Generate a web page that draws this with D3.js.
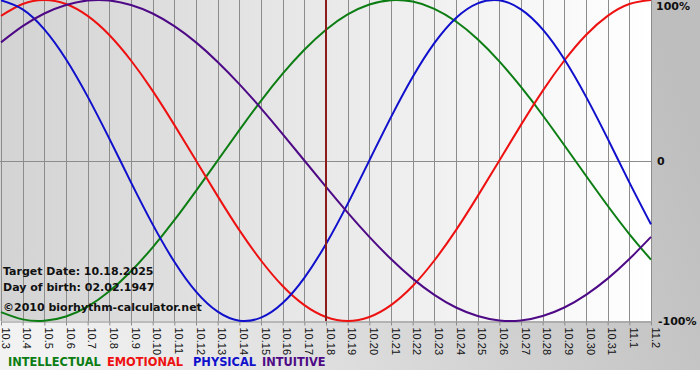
<html>
<head>
<title>Biorhythm</title>
<script src="https://d3js.org/d3.v7.min.js"></script>
<style>
  body { margin: 0; background: white; }
  .grid line { stroke: #8c8c8c; stroke-width: 1px; }
  .curve { fill: none; stroke-width: 2px; }
  .info { font-family: "DejaVu Sans", Verdana, sans-serif; font-weight: bold; font-size: 11px; fill: #111; }
  .legend { font-family: "DejaVu Sans", Verdana, sans-serif; font-weight: bold; font-size: 11.4px; }
  .pct { font-family: "DejaVu Sans", Verdana, sans-serif; font-weight: bold; font-size: 11px; fill: #111; }
</style>
</head>
<body>
<svg id="chart" width="700" height="380"></svg>
<script>
  // day labels along the bottom
  const days = ["10.3","10.4","10.5","10.6","10.7","10.8","10.9","10.10","10.11","10.12",
    "10.13","10.14","10.15","10.16","10.17","10.18","10.19","10.20","10.21","10.22",
    "10.23","10.24","10.25","10.26","10.27","10.28","10.29","10.30","10.31","11.1","11.2"];
  const targetDay = "10.18";

  // values per day, -1 .. 1
  const physical = [0.998,0.942,0.817,0.631,0.398,0.136,-0.136,-0.398,-0.631,-0.817,
    -0.942,-0.998,-0.979,-0.888,-0.731,-0.520,-0.270,0,0.270,0.520,
    0.731,0.888,0.979,0.998,0.942,0.817,0.631,0.398,0.136,-0.136,-0.398];
  const emotional = [0.901,0.975,1,0.975,0.901,0.782,0.623,0.434,0.222,0,
    -0.222,-0.434,-0.623,-0.782,-0.901,-0.975,-1,-0.975,-0.901,-0.782,
    -0.623,-0.434,-0.222,0,0.222,0.434,0.623,0.782,0.901,0.975,1];
  const intellectual = [-0.945,-0.990,-0.999,-0.972,-0.910,-0.815,-0.690,-0.541,-0.372,-0.189,
    0,0.189,0.372,0.541,0.690,0.815,0.910,0.972,0.999,0.990,
    0.945,0.866,0.756,0.618,0.458,0.282,0.095,-0.095,-0.282,-0.458,-0.618];
  const intuitive = [0.736,0.837,0.916,0.969,0.997,0.997,0.969,0.916,0.837,0.736,
    0.614,0.476,0.325,0.165,0,-0.165,-0.325,-0.476,-0.614,-0.736,
    -0.837,-0.916,-0.969,-0.997,-0.997,-0.969,-0.916,-0.837,-0.736,-0.614,-0.476];

  const seriesNames = ["INTELLECTUAL","EMOTIONAL","PHYSICAL","INTUITIVE"];
  const seriesColors = ["#0b7d12","#ee1111","#1010cc","#4e0a86"];
  const seriesData = [intellectual, emotional, physical, intuitive];

  const svg = d3.select("#chart");
  const plotW = 651, plotH = 321;

  const defs = svg.append("defs");
  const bg = defs.append("linearGradient").attr("id","bg")
    .attr("x1","0").attr("y1","0.6").attr("x2","1").attr("y2","0.4");
  bg.append("stop").attr("offset","0").attr("stop-color","#f2f2f2");
  bg.append("stop").attr("offset","1").attr("stop-color","#bebebe");
  const pg = defs.append("linearGradient").attr("id","plotbg")
    .attr("x1","0").attr("y1","0").attr("x2","1").attr("y2","0");
  pg.append("stop").attr("offset","0").attr("stop-color","#d3d3d3");
  pg.append("stop").attr("offset","1").attr("stop-color","#ffffff");

  svg.append("rect").attr("width",700).attr("height",370).attr("fill","url(#bg)");
  svg.append("rect").attr("width",plotW).attr("height",plotH).attr("fill","url(#plotbg)");

  const x = d3.scaleLinear().domain([0, days.length - 1]).range([1, plotW]);
  const y = d3.scaleLinear().domain([-1, 1]).range([plotH, 0]);

  // vertical day grid
  svg.append("g").attr("class","grid")
    .selectAll("line").data(days).join("line")
    .attr("x1",(d,i) => Math.round(x(i)) + 0.5).attr("x2",(d,i) => Math.round(x(i)) + 0.5)
    .attr("y1",0).attr("y2",plotH);

  // zero line
  svg.append("line").attr("x1",0).attr("x2",plotW + 1)
    .attr("y1",Math.round(y(0)) + 0.5).attr("y2",Math.round(y(0)) + 0.5)
    .attr("stroke","#8c8c8c");

  // bottom axis
  const xAxis = d3.axisBottom(x)
    .tickValues(d3.range(days.length))
    .tickFormat(i => days[i])
    .tickSize(4).tickSizeOuter(0);
  const ax = svg.append("g").attr("transform","translate(0," + (plotH + 0.5) + ")").call(xAxis);
  ax.select(".domain").attr("stroke","#8c8c8c");
  ax.selectAll(".tick line").attr("stroke","#8c8c8c");
  ax.selectAll(".tick text")
    .attr("transform","rotate(90)")
    .attr("text-anchor","start")
    .attr("x",6).attr("y",-4).attr("dy","0.35em")
    .style("font-family","'Liberation Sans', Arial, sans-serif")
    .style("font-size","11px").attr("fill","#111");

  // percent labels
  svg.append("text").attr("class","pct").attr("x",656).attr("y",y(1) + 10).text("100%");
  svg.append("text").attr("class","pct").attr("x",657).attr("y",y(0) + 4).text("0");
  svg.append("text").attr("class","pct").attr("x",658).attr("y",y(-1) + 4).text("-100%");

  // curves
  const line = d3.line().x((d,i) => x(i)).y(d => y(d)).curve(d3.curveNatural);
  svg.append("g").selectAll("path").data(seriesData).join("path")
    .attr("class","curve")
    .attr("stroke",(d,i) => seriesColors[i])
    .attr("d", line);

  // target date marker
  const ti = days.indexOf(targetDay);
  svg.append("line").attr("x1",x(ti)).attr("x2",x(ti)).attr("y1",0).attr("y2",plotH)
    .attr("stroke","#8a1c1c").attr("stroke-width",2);

  // info text
  const info = ["Target Date: 10.18.2025","Day of birth: 02.02.1947","\u00a92010 biorhythm-calculator.net"];
  const infoY = [275, 291, 311];
  svg.append("g").selectAll("text").data(info).join("text")
    .attr("class","info").attr("x",3).attr("y",(d,i) => infoY[i]).text(d => d);

  // legend
  const legX = [8, 107, 193, 262];
  svg.append("g").selectAll("text").data(seriesNames).join("text")
    .attr("class","legend").attr("x",(d,i) => legX[i]).attr("y",366)
    .style("fill",(d,i) => seriesColors[i])
    .text(d => d);
</script>
</body>
</html>
